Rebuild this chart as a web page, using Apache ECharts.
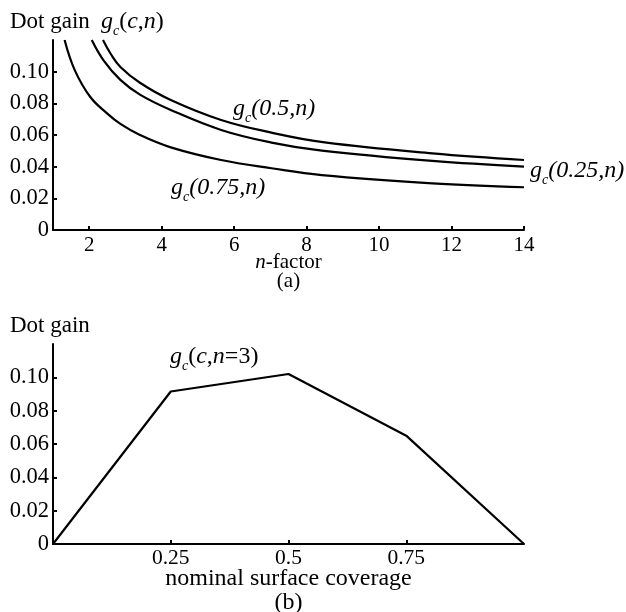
<!DOCTYPE html>
<html>
<head>
<meta charset="utf-8">
<script src="https://cdn.jsdelivr.net/npm/echarts@6/dist/echarts.min.js"></script>
<style>
html, body { margin: 0; padding: 0; background: #fff; }
#main { width: 626px; height: 612px; }
</style>
</head>
<body>
<div id="main"></div>
<script>
// (a) dot gain against n-factor, one curve per coverage c
var n050 = [2.38, 2.6, 2.86, 3.4, 4.25, 5.64, 7.03, 8.5, 11.47, 14];
var gain050 = [0.12, 0.111, 0.103, 0.093, 0.0821, 0.0695, 0.0615, 0.0553, 0.0484, 0.0442];
var n025 = [2.07, 2.4, 2.86, 3.4, 4.25, 5.64, 7.03, 8.42, 11.47, 14];
var gain025 = [0.12, 0.107, 0.0948, 0.0855, 0.0758, 0.0632, 0.0552, 0.0501, 0.0436, 0.040];
var n075 = [1.32, 1.6, 2.03, 2.5, 2.86, 3.4, 4.25, 5.64, 7.03, 8.42, 11.47, 14];
var gain075 = [0.12, 0.101, 0.084, 0.0735, 0.067, 0.060, 0.0522, 0.0442, 0.039, 0.0347, 0.0295, 0.027];
var nTicks = [2, 4, 6, 8, 10, 12, 14];
// (b) dot gain against nominal coverage for n=3
var coverage = [0, 0.25, 0.5, 0.75, 1];
var gainN3 = [0, 0.0915, 0.102, 0.065, 0];
var coverageTicks = [0.25, 0.5, 0.75];
var gainTicks = [0, 0.02, 0.04, 0.06, 0.08, 0.10];

var FONT = 'Liberation Serif';

function zip(xs, ys) {
    return xs.map(function (x, i) { return [x, ys[i]]; });
}

// rich styles for g_c(...) labels
var labelRich = {
    i: { fontFamily: FONT, fontSize: 24, fontStyle: 'italic', lineHeight: 32, fill: '#000' },
    u: { fontFamily: FONT, fontSize: 24, lineHeight: 32, fill: '#000' },
    s: { fontFamily: FONT, fontSize: 14, fontStyle: 'italic', lineHeight: 12, verticalAlign: 'bottom', fill: '#000' }
};

function txt(x, y, text, size) {
    return {
        type: 'text', x: x, y: y, silent: true,
        style: {
            text: text, rich: labelRich, fill: '#000',
            fontFamily: FONT, fontSize: size || 24,
            align: 'left', verticalAlign: 'middle'
        }
    };
}

function valueAxis(grid, min, max, ticks, fmt, margin, size, extra) {
    var ax = {
        gridIndex: grid, type: 'value', min: min, max: max,
        axisLine: { show: true, onZero: false, lineStyle: { color: '#000', width: 2 } },
        axisTick: { show: true, inside: true, length: 4, customValues: ticks, lineStyle: { color: '#000', width: 2 } },
        axisLabel: { customValues: ticks, formatter: fmt, margin: margin, color: '#000', fontFamily: FONT, fontSize: size },
        splitLine: { show: false }
    };
    for (var k in extra) ax[k] = extra[k];
    return ax;
}

function gainFmt(v) { return v === 0 ? '0' : v.toFixed(2); }
function plainFmt(v) { return String(v); }

var lineStyle = { color: '#000', width: 2.2 };

var option = {
    animation: false,
    backgroundColor: '#fff',
    grid: [
        { left: 53, top: 40, width: 471, height: 190, containLabel: false, outerBoundsMode: 'none' },
        { left: 53, top: 344, width: 471, height: 200, containLabel: false, outerBoundsMode: 'none' }
    ],
    xAxis: [
        valueAxis(0, 1, 14, nTicks, plainFmt, 5, 21, {
            name: '{i|n}-factor\n(a)',
            nameLocation: 'middle', nameGap: 23, nameMoveOverlap: false,
            nameTextStyle: {
                color: '#000', fontFamily: FONT, fontSize: 21, lineHeight: 19,
                rich: { i: { fontFamily: FONT, fontSize: 21, fontStyle: 'italic', lineHeight: 19 } }
            }
        }),
        valueAxis(1, 0, 1, coverageTicks, plainFmt, 3, 21.5, {
            name: 'nominal surface coverage\n(b)',
            nameLocation: 'middle', nameGap: 23, nameMoveOverlap: false,
            nameTextStyle: { color: '#000', fontFamily: FONT, fontSize: 24, lineHeight: 24 }
        })
    ],
    yAxis: [
        valueAxis(0, 0, 0.12, gainTicks, gainFmt, 4, 22.5, {}),
        valueAxis(1, 0, 0.12, gainTicks, gainFmt, 4, 22.5, {})
    ],
    series: [
        { type: 'line', xAxisIndex: 0, yAxisIndex: 0, data: zip(n050, gain050), symbol: 'none', smooth: 0.4, lineStyle: lineStyle, silent: true },
        { type: 'line', xAxisIndex: 0, yAxisIndex: 0, data: zip(n025, gain025), symbol: 'none', smooth: 0.4, lineStyle: lineStyle, silent: true },
        { type: 'line', xAxisIndex: 0, yAxisIndex: 0, data: zip(n075, gain075), symbol: 'none', smooth: 0.4, lineStyle: lineStyle, silent: true },
        { type: 'line', xAxisIndex: 1, yAxisIndex: 1, data: zip(coverage, gainN3), symbol: 'none', lineStyle: lineStyle, silent: true }
    ],
    graphic: [
        txt(10, 22, 'Dot gain', 23),
        txt(101, 22, '{i|g}{s|c}{u|(}{i|c}{u|,}{i|n}{u|)}'),
        txt(233, 109, '{i|g}{s|c}{i|(0.5,n)}'),
        txt(171, 188, '{i|g}{s|c}{i|(0.75,n)}'),
        txt(530, 171, '{i|g}{s|c}{i|(0.25,n)}'),
        txt(10, 326, 'Dot gain', 23),
        txt(170, 357, '{i|g}{s|c}{u|(}{i|c}{u|,}{i|n}{u|=3)}')
    ]
};

var chart = echarts.init(document.getElementById('main'));
chart.setOption(option);
</script>
</body>
</html>
